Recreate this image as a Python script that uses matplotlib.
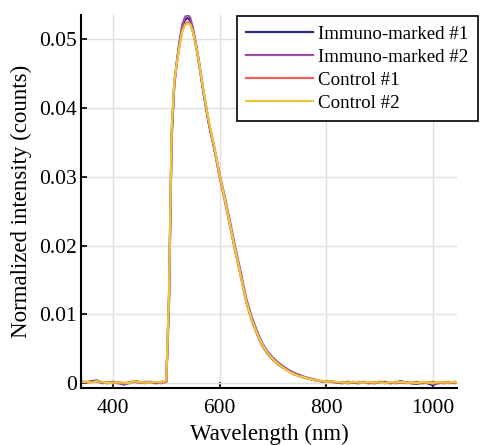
import matplotlib.pyplot as plt
import numpy as np

plt.rcParams['font.family'] = ['Liberation Serif', 'DejaVu Serif']

# wavelength grid (nm)
wavelength = [340, 350, 360, 370, 380, 390, 400, 410, 420, 430, 440, 450, 460, 470, 480, 490, 500,
              505, 510, 515, 520, 525, 530, 535, 540, 545, 550, 555, 560, 570, 580, 590, 600,
              610, 620, 630, 640, 650, 660, 670, 680, 690, 700, 710, 720, 730, 740, 750, 760,
              770, 780, 790, 800, 810, 820, 830, 840, 850, 860, 870, 880, 890, 900, 910, 920,
              930, 940, 950, 960, 970, 980, 990, 1000, 1010, 1020, 1030, 1040, 1050]

immuno_1 = [0.0002, 0.0001, 0.0003, 0.0004, 0.0001, 0.0000, 0.0002, 0.0001, -0.0002, 0.0001, 0.0003, 0.0002, 0.0001, 0.0002, 0.0000, 0.0001, 0.0003,
            0.0120, 0.0360, 0.0435, 0.0468, 0.0495, 0.0517, 0.0528, 0.0531, 0.0527, 0.0513, 0.0494, 0.0472, 0.0421, 0.0376, 0.0341, 0.0301,
            0.0266, 0.0229, 0.0191, 0.0156, 0.0119, 0.0093, 0.0072, 0.0055, 0.0043, 0.0035, 0.0028, 0.0022, 0.0018, 0.0013, 0.0011, 0.0008,
            0.0006, 0.0004, 0.0003, 0.0002, 0.0003, 0.0001, 0.0000, 0.0002, 0.0001, 0.0000, 0.0002, 0.0001, 0.0000, 0.0001, 0.0002, 0.0000,
            0.0001, 0.0003, 0.0001, 0.0000, -0.0001, 0.0001, 0.0000, -0.0003, 0.0001, 0.0000, 0.0001, 0.0002, 0.0001]

immuno_2 = [0.0001, 0.0002, 0.0002, 0.0003, 0.0000, 0.0001, 0.0001, 0.0000, -0.0001, 0.0000, 0.0002, 0.0001, 0.0002, 0.0001, 0.0001, 0.0000, 0.0002,
            0.0115, 0.0355, 0.0433, 0.0469, 0.0498, 0.0521, 0.0532, 0.0536, 0.0531, 0.0516, 0.0496, 0.0474, 0.0423, 0.0378, 0.0343, 0.0304,
            0.0270, 0.0233, 0.0195, 0.0160, 0.0123, 0.0097, 0.0076, 0.0058, 0.0046, 0.0037, 0.0030, 0.0024, 0.0019, 0.0015, 0.0012, 0.0009,
            0.0007, 0.0005, 0.0003, 0.0002, 0.0002, 0.0001, 0.0001, 0.0000, 0.0002, 0.0000, 0.0001, 0.0000, 0.0001, 0.0002, 0.0000, 0.0001,
            0.0000, 0.0001, 0.0002, 0.0000, 0.0001, 0.0000, 0.0001, -0.0001, 0.0000, 0.0001, 0.0000, 0.0001, 0.0000]

control_1 = [0.0003, 0.0001, 0.0002, 0.0002, 0.0001, 0.0001, 0.0000, 0.0002, 0.0000, 0.0001, 0.0002, 0.0001, 0.0000, 0.0002, 0.0001, 0.0002, 0.0002,
             0.0125, 0.0365, 0.0437, 0.0467, 0.0493, 0.0513, 0.0522, 0.0525, 0.0522, 0.0510, 0.0492, 0.0471, 0.0422, 0.0377, 0.0341, 0.0300,
             0.0264, 0.0227, 0.0189, 0.0154, 0.0118, 0.0092, 0.0072, 0.0055, 0.0043, 0.0034, 0.0027, 0.0022, 0.0017, 0.0013, 0.0010, 0.0008,
             0.0006, 0.0004, 0.0003, 0.0003, 0.0002, 0.0001, 0.0002, 0.0000, 0.0001, 0.0002, 0.0001, 0.0000, 0.0001, 0.0002, 0.0001, 0.0000,
             0.0002, 0.0001, 0.0000, 0.0001, 0.0002, 0.0000, 0.0001, 0.0002, 0.0000, 0.0001, 0.0002, 0.0000, 0.0001]

control_2 = [0.0002, 0.0002, 0.0001, 0.0003, 0.0002, 0.0000, 0.0001, 0.0001, 0.0001, 0.0000, 0.0003, 0.0002, 0.0001, 0.0001, 0.0002, 0.0001, 0.0004,
             0.0130, 0.0370, 0.0439, 0.0466, 0.0491, 0.0511, 0.0520, 0.0523, 0.0521, 0.0511, 0.0494, 0.0473, 0.0425, 0.0380, 0.0344, 0.0303,
             0.0267, 0.0229, 0.0191, 0.0155, 0.0119, 0.0093, 0.0073, 0.0056, 0.0044, 0.0035, 0.0028, 0.0022, 0.0017, 0.0013, 0.0010, 0.0008,
             0.0006, 0.0004, 0.0004, 0.0002, 0.0003, 0.0002, 0.0001, 0.0001, 0.0002, 0.0001, 0.0001, 0.0002, 0.0001, 0.0001, 0.0000, 0.0002,
             0.0001, 0.0002, 0.0001, 0.0001, 0.0000, 0.0002, 0.0001, 0.0000, 0.0002, 0.0001, 0.0001, 0.0002, 0.0001]

labels = ['Immuno-marked #1', 'Immuno-marked #2', 'Control #1', 'Control #2']
colors = ['#2b2f7a', '#9b4ea0', '#f0605a', '#e8c840']

fig = plt.figure(figsize=(4.85, 4.45), dpi=100)
ax = fig.add_axes([0.167, 0.128, 0.775, 0.838])

for y, lab, c in zip([immuno_1, immuno_2, control_1, control_2], labels, colors):
    ax.plot(wavelength, y, color=c, lw=1.6, label=lab)

ax.set_xlim(340, 1045)
ax.set_ylim(-0.0007, 0.0535)
ax.set_xticks([400, 600, 800, 1000])
ax.set_yticks([0, 0.01, 0.02, 0.03, 0.04, 0.05])
ax.set_yticklabels(['0', '0.01', '0.02', '0.03', '0.04', '0.05'])
ax.tick_params(direction='in', length=4, width=1.2, labelsize=15.5, colors='black')
ax.tick_params(axis='x', pad=8)
ax.tick_params(axis='y', pad=3)
ax.grid(True, color='#e0e0e0', lw=1)
ax.set_axisbelow(True)
for s in ['top', 'right']:
    ax.spines[s].set_visible(False)
for s in ['left', 'bottom']:
    ax.spines[s].set_linewidth(1.5)

ax.set_xlabel('Wavelength (nm)', fontsize=16.5, labelpad=4)
ax.set_ylabel('Normalized intensity (counts)', fontsize=16.5, labelpad=5)

leg = ax.legend(loc='upper left', bbox_to_anchor=(0.415, 0.997), fontsize=13.6,
                frameon=True, fancybox=False, framealpha=1, edgecolor='black',
                handlelength=3.5, handletextpad=0.3, labelspacing=0.3,
                borderpad=0.5, borderaxespad=0)
leg.get_frame().set_linewidth(1.2)

fig.savefig('out.png', dpi=100)
